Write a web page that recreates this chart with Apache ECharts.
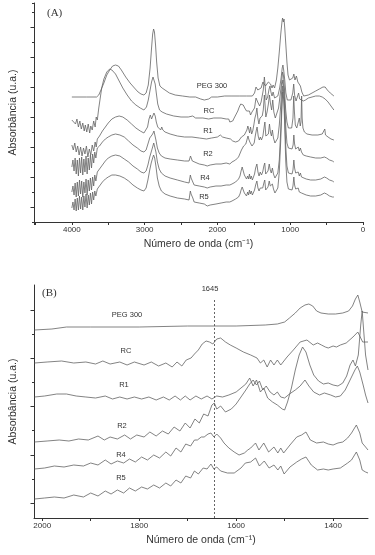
<!DOCTYPE html>
<html>
<head>
<meta charset="utf-8">
<script src="https://cdn.jsdelivr.net/npm/echarts@6/dist/echarts.min.js"></script>
<style>
  html, body { margin: 0; padding: 0; background: #fff; }
  #chart { width: 375px; height: 555px; }
</style>
</head>
<body>
<div id="chart"></div>
<script>
// (A) espectros completos: [número de onda, absorbância (u.a., deslocada)]
const pegA = [[4000,125],[3800,125],[3660,125],[3630,127],[3600,132],[3560,139],[3520,147],[3480,152],[3440,156],[3400,157],[3360,156],[3320,152],[3260,145],[3200,139],[3140,134],[3090,130],[3050,128],[3010,127],[2980,129],[2950,137],[2925,154],[2905,174],[2890,188],[2877,193],[2865,190],[2850,177],[2835,160],[2815,144],[2790,136],[2760,134],[2720,132],[2660,129],[2580,127],[2480,126],[2380,125],[2300,125],[2230,123],[2180,122],[2120,123],[2080,125],[2000,125],[1900,126],[1800,126],[1700,126],[1600,126],[1520,126],[1490,129],[1470,135],[1458,137],[1445,132],[1425,130],[1400,134],[1375,140],[1355,142],[1340,136],[1320,138],[1300,140],[1285,142],[1270,138],[1250,134],[1235,137],[1215,134],[1190,142],[1170,154],[1150,170],[1130,188],[1112,201],[1105,204],[1095,200],[1085,203],[1075,194],[1060,177],[1045,160],[1030,147],[1010,142],[990,140],[965,144],[950,148],[935,142],[915,146],[895,140],[880,142],[860,136],[840,130],[815,126],[790,125],[750,127],[700,129],[650,131],[600,133],[550,135],[520,135],[490,132],[450,129],[400,126]];
const rcA = [[4000,102],[3975,104],[3950,98],[3930,103],[3910,95],[3890,101],[3870,93],[3850,99],[3830,91],[3815,97],[3795,90],[3775,98],[3755,89],[3740,96],[3720,92],[3700,101],[3680,95],[3665,105],[3650,102],[3630,114],[3610,124],[3590,134],[3560,143],[3520,150],[3480,153],[3450,152],[3400,148],[3350,141],[3300,134],[3240,127],[3180,121],[3120,117],[3060,114],[3010,112],[2975,115],[2950,122],[2925,132],[2905,140],[2885,145],[2870,144],[2855,138],[2840,129],[2820,118],[2795,112],[2760,110],[2700,108],[2600,106],[2500,105],[2400,105],[2340,106],[2300,104],[2200,104],[2120,103],[2050,104],[1950,104],[1880,103],[1860,101],[1845,103],[1830,100],[1810,102],[1790,101],[1770,104],[1745,106],[1720,111],[1700,115],[1680,118],[1660,119],[1645,117],[1625,114],[1600,111],[1580,109],[1560,111],[1545,107],[1525,110],[1505,109],[1490,114],[1470,124],[1455,125],[1440,119],[1420,116],[1400,120],[1385,126],[1370,132],[1355,145],[1345,137],[1330,122],[1310,125],[1290,133],[1278,136],[1265,130],[1250,126],[1235,130],[1215,124],[1195,122],[1170,126],[1145,134],[1125,144],[1110,154],[1100,157],[1090,152],[1075,142],[1060,129],[1040,122],[1015,120],[990,122],[965,129],[952,138],[940,127],[920,121],[900,122],[885,129],[870,123],[850,122],[820,121],[790,122],[750,124],[700,125],[650,126],[600,126],[560,125],[520,123],[480,120],[440,116],[400,112]];
const r1A = [[4000,77],[3980,72],[3960,79],[3940,70],[3920,76],[3900,67],[3880,75],[3860,66],[3840,74],[3820,68],[3800,76],[3780,65],[3760,73],[3740,67],[3720,77],[3700,71],[3680,80],[3665,75],[3650,83],[3620,86],[3580,91],[3540,95],[3500,99],[3450,103],[3400,105],[3350,106],[3300,105],[3240,102],[3180,98],[3120,94],[3060,91],[3010,89],[2985,90],[2960,95],[2940,103],[2922,107],[2905,103],[2890,105],[2872,109],[2855,106],[2840,100],[2820,95],[2800,93],[2780,92],[2765,95],[2750,92],[2720,90],[2650,88],[2550,86],[2450,85],[2350,85],[2250,84],[2150,83],[2080,84],[2000,85],[1960,87],[1930,85],[1880,84],[1820,83],[1790,81],[1770,83],[1750,80],[1730,82],[1710,81],[1690,83],[1670,85],[1650,84],[1630,87],[1610,86],[1595,92],[1582,96],[1570,93],[1558,89],[1545,95],[1530,88],[1515,91],[1500,97],[1485,104],[1470,108],[1458,114],[1445,104],[1430,98],[1415,104],[1400,102],[1385,106],[1370,112],[1355,127],[1345,117],[1335,105],[1318,110],[1300,118],[1285,127],[1270,118],[1255,112],[1240,122],[1225,110],[1205,104],[1185,106],[1160,114],[1140,126],[1120,138],[1105,150],[1092,146],[1078,132],[1062,112],[1045,100],[1025,94],[1000,92],[980,94],[962,104],[952,126],[942,110],[930,97],[910,94],[890,96],[875,104],[862,96],[852,100],[843,126],[836,104],[825,94],[805,90],[770,88],[700,87],[620,87],[560,88],[535,89],[525,93],[515,87],[480,85],[440,83],[400,82]];
const r2A = [[4000,55],[3985,62],[3970,51],[3955,64],[3940,48],[3925,62],[3910,46],[3895,64],[3880,49],[3865,65],[3850,47],[3835,63],[3820,50],[3805,66],[3790,48],[3775,64],[3760,52],[3745,67],[3730,54],[3715,68],[3700,59],[3685,70],[3670,64],[3650,74],[3620,76],[3580,80],[3540,83],[3500,85],[3450,87],[3400,88],[3340,87],[3280,85],[3220,81],[3160,77],[3100,74],[3050,71],[3010,70],[2980,72],[2955,78],[2930,84],[2910,86],[2890,88],[2872,91],[2860,89],[2845,82],[2825,74],[2800,69],[2770,66],[2720,64],[2650,63],[2550,62],[2450,61],[2390,61],[2370,66],[2360,64],[2345,61],[2320,59],[2250,58],[2180,57],[2140,56],[2100,57],[2020,58],[1950,58],[1880,59],[1830,58],[1800,60],[1775,59],[1750,62],[1730,61],[1710,65],[1690,67],[1670,72],[1655,74],[1640,76],[1625,74],[1610,78],[1595,82],[1580,86],[1570,83],[1555,80],[1540,82],[1525,76],[1510,74],[1495,79],[1480,86],[1465,92],[1455,95],[1440,86],[1425,82],[1410,85],[1395,82],[1375,86],[1360,94],[1348,100],[1335,86],[1320,84],[1300,88],[1285,98],[1272,90],[1258,86],[1245,92],[1230,84],[1210,79],[1190,78],[1170,84],[1150,97],[1130,117],[1112,137],[1100,142],[1088,134],[1075,117],[1060,94],[1045,79],[1025,74],[1000,72],[975,73],[960,77],[950,87],[940,78],[925,73],[905,72],[890,75],[875,71],[860,74],[845,70],[820,67],[780,66],[720,65],[650,64],[580,64],[530,65],[500,64],[460,62],[420,61],[400,60]];
const r4A = [[4000,30],[3985,36],[3970,27],[3955,39],[3940,25],[3925,40],[3910,26],[3895,42],[3880,28],[3865,41],[3850,25],[3835,40],[3820,29],[3805,43],[3790,27],[3775,42],[3760,31],[3745,44],[3730,32],[3715,45],[3700,36],[3685,47],[3670,41],[3650,50],[3620,53],[3580,57],[3540,61],[3500,64],[3450,66],[3400,67],[3340,66],[3280,63],[3220,60],[3160,56],[3100,53],[3050,50],[3010,49],[2980,51],[2955,57],[2930,65],[2910,70],[2890,75],[2875,79],[2860,77],[2845,70],[2825,60],[2800,53],[2770,49],[2720,46],[2650,44],[2550,42],[2450,40],[2390,39],[2372,47],[2362,44],[2350,46],[2338,40],[2320,37],[2250,36],[2180,35],[2140,34],[2100,35],[2020,36],[1950,36],[1880,37],[1830,37],[1800,38],[1775,38],[1750,40],[1730,40],[1710,43],[1690,46],[1675,51],[1660,55],[1645,51],[1630,47],[1615,45],[1600,43],[1585,46],[1572,43],[1560,48],[1548,43],[1535,46],[1520,42],[1505,44],[1490,48],[1475,54],[1458,58],[1443,50],[1428,46],[1412,50],[1395,47],[1378,50],[1362,56],[1350,59],[1337,48],[1322,47],[1305,51],[1288,58],[1274,52],[1260,49],[1245,54],[1230,48],[1210,44],[1190,43],[1170,49],[1150,62],[1130,92],[1112,124],[1102,136],[1090,130],[1078,112],[1062,77],[1045,56],[1025,49],[1000,47],[975,48],[962,52],[950,62],[940,54],[925,49],[905,47],[890,50],[875,46],[860,49],[845,45],[820,44],[780,43],[720,42],[650,42],[580,43],[530,45],[500,44],[460,42],[420,41],[400,40]];
const r5A = [[4000,14],[3985,20],[3970,12],[3955,23],[3940,11],[3925,24],[3910,12],[3895,26],[3880,13],[3865,25],[3850,12],[3835,26],[3820,15],[3805,28],[3790,14],[3775,27],[3760,17],[3745,29],[3730,18],[3715,30],[3700,22],[3685,31],[3670,26],[3650,33],[3620,36],[3580,40],[3540,43],[3500,45],[3450,47],[3400,47],[3340,46],[3280,44],[3220,41],[3160,37],[3100,34],[3050,32],[3010,31],[2980,34],[2955,42],[2930,52],[2910,59],[2890,64],[2877,67],[2862,64],[2845,56],[2825,44],[2800,36],[2770,31],[2720,28],[2650,26],[2550,24],[2450,23],[2390,22],[2372,31],[2362,28],[2350,30],[2338,24],[2320,20],[2250,19],[2180,18],[2140,16],[2100,17],[2020,18],[1950,19],[1880,20],[1830,20],[1800,21],[1775,21],[1750,23],[1730,23],[1710,25],[1690,28],[1675,32],[1660,35],[1645,32],[1630,29],[1615,28],[1600,26],[1585,30],[1572,27],[1560,32],[1548,28],[1535,31],[1520,27],[1505,29],[1490,32],[1475,37],[1458,41],[1443,34],[1428,31],[1412,34],[1395,32],[1378,34],[1362,39],[1350,42],[1337,32],[1322,32],[1305,35],[1288,41],[1274,36],[1260,34],[1245,38],[1230,33],[1210,29],[1190,28],[1170,34],[1150,50],[1130,82],[1112,118],[1102,130],[1090,123],[1078,102],[1062,62],[1045,40],[1025,33],[1000,31],[975,32],[962,36],[950,45],[940,37],[925,33],[905,31],[890,34],[875,30],[860,32],[845,29],[820,28],[780,27],[720,26],[650,26],[580,27],[530,29],[500,28],[460,26],[420,25],[400,25]];

// (B) região 2000-1330 cm-1
const pegB = [[2016,188],[1980,189],[1950,191],[1900,191],[1800,191],[1700,192],[1600,192],[1540,193],[1515,194],[1500,196],[1490,200],[1478,205],[1468,210],[1458,213],[1450,214],[1442,212],[1434,207],[1425,205],[1410,204],[1395,204],[1380,205],[1368,207],[1360,212],[1354,219],[1349,223],[1345,216],[1340,206],[1336,205],[1328,205]];
const rcB = [[2016,155],[1990,156],[1960,157],[1935,155],[1910,156],[1890,154],[1875,157],[1860,154],[1840,156],[1825,153],[1810,156],[1790,153],[1775,156],[1760,152],[1745,155],[1732,151],[1722,156],[1712,152],[1703,158],[1693,160],[1686,164],[1678,168],[1670,174],[1662,177],[1655,176],[1648,174],[1640,179],[1632,180],[1622,176],[1612,173],[1600,170],[1585,166],[1570,163],[1557,160],[1550,155],[1543,158],[1536,151],[1529,158],[1522,153],[1515,158],[1508,153],[1495,161],[1482,168],[1468,176],[1454,178],[1441,173],[1432,175],[1424,173],[1416,171],[1410,170],[1400,172],[1393,171],[1385,173],[1373,175],[1359,181],[1349,186],[1339,176],[1328,176]];
const r1B = [[2016,121],[1995,122],[1970,124],[1950,124],[1930,122],[1910,121],[1890,120],[1870,122],[1855,119],[1840,121],[1825,119],[1810,121],[1795,119],[1780,121],[1765,118],[1750,121],[1738,118],[1726,122],[1715,118],[1705,122],[1695,118],[1683,122],[1672,119],[1660,122],[1650,119],[1640,122],[1628,121],[1615,123],[1600,126],[1590,130],[1580,134],[1572,140],[1565,132],[1558,138],[1550,126],[1543,130],[1535,120],[1525,116],[1515,113],[1505,109],[1500,108],[1494,116],[1486,130],[1478,148],[1470,163],[1463,171],[1456,166],[1448,153],[1440,143],[1430,137],[1420,134],[1410,135],[1400,133],[1390,132],[1380,135],[1372,142],[1365,153],[1359,158],[1354,152],[1348,163],[1343,193],[1340,207],[1337,188],[1333,163],[1328,148]];
const r2B = [[2016,76],[1990,77],[1965,78],[1945,77],[1925,79],[1905,78],[1885,82],[1872,78],[1860,81],[1845,79],[1830,83],[1818,79],[1805,83],[1790,81],[1778,86],[1765,82],[1752,87],[1740,84],[1728,91],[1716,87],[1705,95],[1695,90],[1685,99],[1676,95],[1667,104],[1658,102],[1650,113],[1645,115],[1640,109],[1632,112],[1622,106],[1610,109],[1600,114],[1590,121],[1580,128],[1572,134],[1565,138],[1558,133],[1552,137],[1545,128],[1538,132],[1530,126],[1522,123],[1515,126],[1508,121],[1500,120],[1490,124],[1478,128],[1468,132],[1458,138],[1450,132],[1440,126],[1428,123],[1418,125],[1405,123],[1395,121],[1385,122],[1375,128],[1365,138],[1355,148],[1350,152],[1345,146],[1338,133],[1333,123],[1328,115]];
const r4B = [[2016,49],[1995,50],[1975,52],[1955,51],[1935,53],[1915,52],[1900,55],[1885,53],[1870,58],[1858,54],[1845,57],[1832,55],[1820,59],[1808,56],[1795,61],[1783,58],[1770,63],[1758,60],[1745,66],[1735,62],[1724,70],[1714,66],[1704,74],[1694,72],[1686,78],[1680,78],[1672,81],[1666,81],[1658,84],[1652,85],[1646,81],[1640,84],[1632,80],[1625,75],[1615,70],[1604,66],[1594,63],[1583,65],[1576,68],[1570,70],[1560,75],[1553,68],[1543,75],[1533,66],[1522,71],[1514,65],[1508,70],[1502,65],[1489,73],[1475,81],[1465,83],[1456,86],[1447,78],[1434,75],[1420,76],[1410,74],[1400,73],[1390,75],[1380,76],[1370,80],[1362,85],[1352,93],[1345,85],[1340,75],[1333,71],[1328,68]];
const r5B = [[2016,19],[1995,20],[1975,21],[1955,20],[1935,23],[1915,21],[1900,25],[1885,22],[1870,27],[1858,24],[1845,28],[1832,25],[1820,30],[1808,27],[1795,31],[1783,29],[1770,33],[1758,30],[1745,35],[1735,32],[1724,38],[1714,35],[1704,42],[1694,40],[1686,47],[1678,44],[1668,50],[1660,49],[1652,54],[1646,49],[1640,51],[1632,47],[1618,45],[1604,45],[1590,50],[1581,55],[1570,56],[1560,60],[1552,52],[1542,57],[1532,50],[1522,53],[1514,48],[1508,52],[1501,44],[1489,51],[1475,56],[1465,59],[1456,61],[1445,53],[1432,48],[1420,49],[1410,48],[1400,49],[1385,50],[1370,55],[1362,58],[1352,66],[1345,58],[1340,48],[1333,46],[1328,45]];

const seriesA = [pegA, rcA, r1A, r2A, r4A, r5A];
const seriesB = [pegB, rcB, r1B, r2B, r4B, r5B];
const names = ['PEG 300', 'RC', 'R1', 'R2', 'R4', 'R5'];
const marker = 1645;

// marcas dos eixos de (B)
const xTicksB = [2000, 1900, 1800, 1700, 1600, 1500, 1400];
const yTicksLongB = [15, 63.25, 111.5, 159.75, 208];
const yTicksShortB = [39.1, 87.4, 135.6, 183.9];

const font = '"Liberation Sans", Arial, sans-serif';
const axisColor = '#333';
const lineColor = '#636363';

let chart = echarts.init(document.getElementById('chart'), null, { renderer: 'canvas' });

function line(data, idx) {
  return {
    type: 'line',
    xAxisIndex: idx,
    yAxisIndex: idx,
    data: data,
    symbol: 'none',
    silent: true,
    lineStyle: { color: lineColor, width: 0.8 }
  };
}

let series = [];
seriesA.forEach(d => series.push(line(d, 0)));
seriesB.forEach(d => series.push(line(d, 1)));
// linha tracejada em 1645
series[6].markLine = {
  silent: true,
  symbol: 'none',
  label: { show: false },
  lineStyle: { color: '#555', type: [2, 2], width: 0.9 },
  data: [[{ coord: [marker, 218] }, { coord: [marker, 0] }]]
};

// rótulos (texto) das curvas
const labelPosA = [[212, 86], [209, 111], [208, 131], [208, 154], [205, 178], [204, 197]];
const labelPosB = [[127, 315], [126, 351], [124, 385], [122, 426], [121, 455], [121, 478]];
let graphic = [];
names.forEach((n, i) => {
  graphic.push({ type: 'text', x: labelPosA[i][0], y: labelPosA[i][1], style: { text: n, font: '7.5px ' + font, fill: '#333', align: 'center', verticalAlign: 'middle' } });
  graphic.push({ type: 'text', x: labelPosB[i][0], y: labelPosB[i][1], style: { text: n, font: '7.5px ' + font, fill: '#333', align: 'center', verticalAlign: 'middle' } });
});
graphic.push({ type: 'text', x: 47, y: 13, style: { text: '(A)', font: '11px "Liberation Serif", serif', fill: '#333', verticalAlign: 'middle' } });
graphic.push({ type: 'text', x: 42, y: 293, style: { text: '(B)', font: '11px "Liberation Serif", serif', fill: '#333', verticalAlign: 'middle' } });
graphic.push({ type: 'text', x: 210, y: 289, style: { text: String(marker), font: '7.5px ' + font, fill: '#333', align: 'center', verticalAlign: 'middle' } });

const nameStyle = { fontSize: 10.5, color: axisColor, fontFamily: font };

chart.setOption({
  animation: false,
  textStyle: { fontFamily: font },
  grid: [
    { left: 32, right: 12, top: 3, height: 219 },
    { left: 32, right: 7, top: 285, height: 233 }
  ],
  xAxis: [
    {
      gridIndex: 0, type: 'value', inverse: true, min: 0, max: 4520, interval: 500,
      name: 'Número de onda (cm⁻¹)', nameLocation: 'middle', nameGap: 17, nameTextStyle: nameStyle,
      axisLine: { onZero: false, lineStyle: { color: axisColor } },
      axisTick: { length: 3, lineStyle: { color: axisColor } },
      axisLabel: { fontSize: 8, color: axisColor, margin: 4, formatter: v => (v % 1000 === 0 ? String(v) : '') },
      splitLine: { show: false }
    },
    {
      gridIndex: 1, type: 'value', inverse: true, min: 1328, max: 2017,
      name: 'Número de onda (cm⁻¹)', nameLocation: 'middle', nameGap: 17, nameTextStyle: nameStyle,
      axisLine: { onZero: false, lineStyle: { color: axisColor } },
      axisTick: { length: 3, customValues: xTicksB, lineStyle: { color: axisColor } },
      axisLabel: { fontSize: 8, color: axisColor, margin: 4, customValues: xTicksB.filter(v => v % 200 === 0), formatter: v => String(v) },
      splitLine: { show: false }
    }
  ],
  yAxis: [
    {
      gridIndex: 0, type: 'value', min: 0, max: 219, interval: 30,
      name: 'Absorbância (u.a.)', nameLocation: 'middle', nameGap: 15, nameRotate: 90, nameTextStyle: nameStyle,
      axisLine: { show: true, onZero: false, lineStyle: { color: axisColor } },
      axisTick: { show: true, length: 2, lineStyle: { color: axisColor } },
      minorTick: { show: true, splitNumber: 2, length: 3.5, lineStyle: { color: axisColor } },
      axisLabel: { show: false },
      splitLine: { show: false }
    },
    {
      gridIndex: 1, type: 'value', position: 'left', min: 0, max: 233,
      name: 'Absorbância (u.a.)', nameLocation: 'middle', nameGap: 15, nameRotate: 90, nameTextStyle: nameStyle,
      axisLine: { show: true, onZero: false, lineStyle: { color: axisColor } },
      axisTick: { show: true, length: 3.5, customValues: yTicksLongB, lineStyle: { color: axisColor } },
      axisLabel: { show: false },
      splitLine: { show: false }
    },
    {
      // marcas curtas do eixo (B)
      gridIndex: 1, type: 'value', position: 'left', min: 0, max: 233,
      axisLine: { show: false, onZero: false },
      axisTick: { show: true, length: 2, customValues: yTicksShortB, lineStyle: { color: axisColor } },
      axisLabel: { show: false },
      splitLine: { show: false }
    }
  ],
  graphic: graphic,
  series: series
});
</script>
</body>
</html>
